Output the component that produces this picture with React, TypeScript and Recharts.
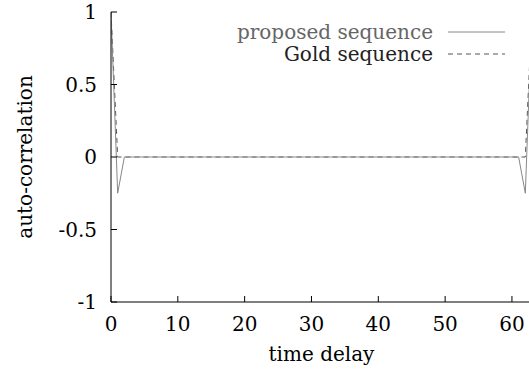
import { Legend, Line, LineChart, XAxis, YAxis } from 'recharts';

// time delay (0..63)
const delays = [
  0, 1, 2, 3, 4, 5, 6, 7, 8, 9, 10, 11, 12, 13, 14, 15,
  16, 17, 18, 19, 20, 21, 22, 23, 24, 25, 26, 27, 28, 29, 30, 31,
  32, 33, 34, 35, 36, 37, 38, 39, 40, 41, 42, 43, 44, 45, 46, 47,
  48, 49, 50, 51, 52, 53, 54, 55, 56, 57, 58, 59, 60, 61, 62, 63,
];

const proposed = [
  1, -0.25, 0, 0, 0, 0, 0, 0, 0, 0, 0, 0, 0, 0, 0, 0,
  0, 0, 0, 0, 0, 0, 0, 0, 0, 0, 0, 0, 0, 0, 0, 0,
  0, 0, 0, 0, 0, 0, 0, 0, 0, 0, 0, 0, 0, 0, 0, 0,
  0, 0, 0, 0, 0, 0, 0, 0, 0, 0, 0, 0, 0, 0, -0.25, 1,
];

const gold = [
  1, 0, 0, 0, 0, 0, 0, 0, 0, 0, 0, 0, 0, 0, 0, 0,
  0, 0, 0, 0, 0, 0, 0, 0, 0, 0, 0, 0, 0, 0, 0, 0,
  0, 0, 0, 0, 0, 0, 0, 0, 0, 0, 0, 0, 0, 0, 0, 0,
  0, 0, 0, 0, 0, 0, 0, 0, 0, 0, 0, 0, 0, 0, 0, 1,
];

const xTicks = [0, 10, 20, 30, 40, 50, 60];
const yTicks = [-1, -0.5, 0, 0.5, 1];

const data = delays.map((t, i) => ({ t, proposed: proposed[i], gold: gold[i] }));

const FONT = 'DejaVu Serif';
const FS = 20;
const TICK = 6;

const BottomTick = (p: any) => (
  <g>
    <line x1={p.x} x2={p.x} y1={p.y} y2={p.y - TICK} stroke="#000" />
    <text x={p.x} y={p.y + 15} dy="0.71em" textAnchor="middle" fontFamily={FONT} fontSize={FS} fill="#000">
      {p.payload.value}
    </text>
  </g>
);

const TopTick = (p: any) => <line x1={p.x} x2={p.x} y1={p.y} y2={p.y + TICK} stroke="#000" />;

const LeftTick = (p: any) => (
  <g>
    <line x1={p.x} x2={p.x + TICK} y1={p.y} y2={p.y} stroke="#000" />
    <text x={p.x - 14} y={p.y} dy="0.355em" textAnchor="end" fontFamily={FONT} fontSize={FS} fill="#000">
      {String(p.payload.value)}
    </text>
  </g>
);

const RightTick = (p: any) => <line x1={p.x} x2={p.x - TICK} y1={p.y} y2={p.y} stroke="#000" />;

const legendRows = [
  { name: 'proposed sequence', color: '#666', stroke: '#888', dash: undefined as string | undefined },
  { name: 'Gold sequence', color: '#222', stroke: '#555', dash: '5 4' },
];

const KeyBox = () => (
  <div style={{ fontFamily: FONT, fontSize: FS, lineHeight: '22px' }}>
    {legendRows.map((r) => (
      <div key={r.name} style={{ display: 'flex', justifyContent: 'flex-end', alignItems: 'center', height: 22 }}>
        <span style={{ color: r.color }}>{r.name}</span>
        <svg width={72} height={10}>
          <line x1={15} x2={72} y1={5} y2={5} stroke={r.stroke} strokeDasharray={r.dash} />
        </svg>
      </div>
    ))}
  </div>
);

export default function App() {
  return (
    <div style={{ position: 'absolute', left: 0, top: 0, width: 529, height: 374, overflow: 'hidden', background: '#fff' }}>
      <LineChart width={545} height={374} data={data} margin={{ top: 12, right: 13, bottom: 0, left: 0 }}>
        <XAxis
          dataKey="t"
          type="number"
          domain={[0, 63]}
          ticks={xTicks}
          allowDataOverflow
          height={72}
          tickSize={0}
          tickMargin={0}
          stroke="#000"
          tick={BottomTick}
          label={({ viewBox }: any) => (
            <text x={viewBox.x + viewBox.width / 2} y={viewBox.y + 59} textAnchor="middle" fontFamily={FONT} fontSize={FS} fill="#000">
              time delay
            </text>
          )}
        />
        <XAxis
          xAxisId="top"
          orientation="top"
          type="number"
          domain={[0, 63]}
          ticks={xTicks}
          allowDataOverflow
          height={0}
          tickSize={0}
          tickMargin={0}
          stroke="#000"
          tick={TopTick}
        />
        <YAxis
          type="number"
          domain={[-1, 1]}
          ticks={yTicks}
          allowDataOverflow
          width={111}
          tickSize={0}
          tickMargin={0}
          stroke="#000"
          tick={LeftTick}
          label={({ viewBox }: any) => {
            const cx = viewBox.x + 25;
            const cy = viewBox.y + viewBox.height / 2;
            return (
              <text x={cx} y={cy} transform={`rotate(-90, ${cx}, ${cy})`} textAnchor="middle" dominantBaseline="central" fontFamily={FONT} fontSize={FS} fill="#000">
                auto-correlation
              </text>
            );
          }}
        />
        <YAxis
          yAxisId="right"
          orientation="right"
          type="number"
          domain={[-1, 1]}
          ticks={yTicks}
          allowDataOverflow
          width={0}
          tickSize={0}
          tickMargin={0}
          stroke="#000"
          tick={RightTick}
        />
        <Legend
          layout="horizontal"
          verticalAlign="middle"
          align="center"
          content={KeyBox}
          wrapperStyle={{ top: 21, left: 200, width: 305 }}
        />
        <Line
          dataKey="gold"
          name="Gold sequence"
          type="linear"
          stroke="#555"
          strokeWidth={1}
          strokeDasharray="5 4"
          dot={false}
          isAnimationActive={false}
        />
        <Line
          dataKey="proposed"
          name="proposed sequence"
          type="linear"
          stroke="#888"
          strokeWidth={1}
          dot={false}
          isAnimationActive={false}
        />
      </LineChart>
    </div>
  );
}
